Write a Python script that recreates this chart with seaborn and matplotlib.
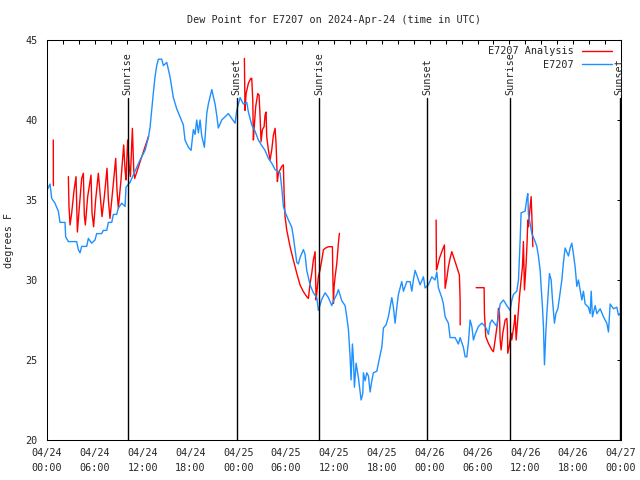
import matplotlib
matplotlib.use("Agg")
import matplotlib.pyplot as plt
import matplotlib.dates as mdates
from matplotlib.lines import Line2D
import seaborn as sns
import numpy as np
import pandas as pd

# hours after 2024-04-24 00:00 UTC
blue_hours = [0.0, 0.38, 0.59, 1.0, 1.42, 1.63, 2.26, 2.34, 2.68, 3.72, 3.93, 4.14, 4.35, 4.98,
              5.19, 5.6, 6.02, 6.23, 6.86, 7.07, 7.49, 7.7, 8.12, 8.32, 8.74, 8.95, 9.37, 9.79,
              9.91, 10.41, 11.04, 11.67, 12.3, 12.71, 12.92, 13.13, 13.34, 13.55, 13.76, 13.97,
              14.39, 14.6, 15.02, 15.43, 15.85, 16.27, 16.69, 17.1, 17.31, 17.73,
              18.07, 18.36, 18.57, 18.78, 18.99, 19.2, 19.41, 19.74, 20.04, 20.24, 20.67, 21.08,
              21.29, 21.49, 21.92, 22.75, 23.17, 23.59, 23.8, 24.22, 24.63, 25.06, 25.26, 25.68,
              26.1, 26.51, 26.94, 27.35, 27.77, 28.19, 28.61, 29.23, 29.45, 29.65, 29.86, 30.28,
              30.7, 30.9, 31.12, 31.33, 31.53, 31.74, 32.16, 32.37, 32.58, 33.0, 33.41, 33.84,
              34.04, 34.47, 34.88, 35.3,
              35.72, 35.93, 36.35, 36.55, 36.98, 37.39, 37.6, 37.81, 38.02, 38.14, 38.31, 38.43,
              38.56, 38.77, 39.06, 39.27, 39.4, 39.61, 39.69, 39.9, 40.11, 40.32, 40.53, 40.74,
              40.94, 41.37, 41.57, 41.78, 42.0, 42.2, 42.53, 42.82, 43.04, 43.25, 43.45, 43.66,
              43.88, 44.08, 44.5, 44.71, 45.13, 45.55, 45.76, 45.96, 46.17, 46.39, 46.8, 47.22,
              47.43, 47.84, 48.27, 48.68, 48.9, 49.1, 49.52, 49.72, 49.94, 50.35, 50.56, 51.19,
              51.6, 51.82, 52.23, 52.45, 52.66, 52.86, 53.07,
              53.29, 53.49, 53.7, 54.12, 54.54, 54.96, 55.17, 55.37, 55.58, 55.8, 56.42, 56.63,
              56.84, 57.25, 57.68, 58.09, 58.31, 58.51, 58.93, 59.14, 59.35, 59.47, 59.97, 60.19,
              60.31, 60.39, 60.6, 60.82, 61.23, 61.44, 61.64, 61.86, 61.98, 62.15, 62.27, 62.4,
              62.57, 62.7, 62.9, 63.03, 63.24, 63.4, 63.65, 63.83, 64.08, 64.24, 64.58, 64.78,
              64.99, 65.41, 65.62, 65.83, 66.04, 66.25, 66.46, 66.66, 67.09, 67.29, 67.5, 67.92,
              68.13, 68.26, 68.42, 68.76, 68.97, 69.39, 69.8, 70.22, 70.43, 70.64, 71.06, 71.48,
              71.68, 71.89]
blue_vals = [35.6, 36.0, 35.1, 34.8, 34.3, 33.6, 33.6, 32.7, 32.4, 32.4, 31.9, 31.7, 32.1, 32.1,
             32.6, 32.3, 32.5, 32.9, 32.9, 33.1, 33.1, 33.6, 33.6, 34.1, 34.1, 34.5, 34.8, 34.6,
             35.8, 36.1, 36.8, 37.5, 38.1, 38.9, 39.5, 40.6, 41.7, 42.7, 43.4, 43.8,
             43.8, 43.4, 43.6, 42.7, 41.4, 40.7, 40.2, 39.7, 38.75, 38.3,
             38.1, 39.4, 39.1, 40.0, 39.2, 40.0, 39.0, 38.3, 40.4, 41.0, 41.9, 41.0,
             40.3, 39.5, 40.0, 40.4, 40.1, 39.8, 40.6, 41.4, 41.0, 41.1, 40.5, 39.7,
             39.3, 38.75, 38.4, 38.1, 37.6, 37.3, 36.9, 36.7, 35.75, 34.6, 34.25, 33.75,
             33.3, 32.7, 31.9, 31.1, 31.0, 31.4, 31.9, 31.6, 30.6, 29.7, 29.2, 28.9,
             28.1, 28.8, 29.2, 28.9,
             28.4, 28.7, 29.1, 29.4, 28.7, 28.4, 27.7, 26.9, 25.2, 23.75, 26.0, 25.1,
             23.3, 24.8, 23.9, 23.0, 22.5, 22.9, 24.2, 23.7, 24.2, 24.0, 23.0, 23.7,
             24.2, 24.3, 24.8, 25.3, 25.8, 27.0, 27.2, 27.7, 28.3, 28.9, 28.3, 27.3,
             28.3, 29.1, 29.9, 29.3, 29.9, 29.9, 29.3, 30.0, 30.6, 30.3, 29.7, 30.2,
             29.5, 29.7, 30.2, 30.0, 30.5, 29.5, 28.9, 28.5, 27.7, 27.3, 26.4, 26.4,
             26.0, 26.4, 25.8, 25.2, 25.2, 26.1, 27.5,
             27.1, 26.25, 26.6, 27.1, 27.3, 27.1, 26.9, 26.6, 27.3, 27.5, 27.1, 27.8,
             28.5, 28.75, 28.4, 28.1, 28.75, 29.1, 29.3, 30.0, 32.5, 34.2, 34.3, 35.1,
             35.4, 34.1, 33.5, 32.9, 32.4, 32.1, 31.5, 30.6, 29.6, 28.3, 27.1, 24.7,
             26.7, 27.9, 29.4, 30.4, 30.0, 28.8, 27.3, 27.9, 28.2, 28.75, 30.0, 31.1,
             32.0, 31.5, 32.0, 32.3, 31.6, 30.8, 29.6, 30.0, 28.75, 29.3, 28.5, 28.3,
             27.9, 29.3, 27.7, 28.4, 27.9, 28.2, 27.7, 27.3, 26.75, 28.5, 28.2, 28.3,
             27.8, 27.9]

# analysis series, NaN marks a gap between pieces
red_hours = [0.79, 0.80, np.nan,
             2.68, 2.76, 2.89, 3.1, 3.39, 3.64, 3.81, 4.06, 4.35, 4.56, 4.68, 4.81, 5.1, 5.52,
             5.65, 5.85, 6.1, 6.44, 6.69, 6.9, 7.19, 7.53, 7.7, 7.9, 8.2, 8.62, 8.78, 8.95,
             9.28, 9.62, 9.79, 9.91, 10.12, 10.29, 10.46, 10.71, 10.88, 11.0, 11.88, 12.75, np.nan,
             24.76, 24.84, 24.97, 25.26, 25.56, 25.68, 25.81, 25.89, 25.97, 26.18, 26.44, 26.6,
             26.73, 26.85, 27.02, 27.23, 27.35, 27.48, 27.56, 27.77, 27.98, 28.19, 28.4, 28.61,
             28.73, 28.9, 29.02, 29.45, 29.65, 29.74, 29.86, 30.07, 30.49, 30.9, 31.33, 31.74,
             32.16, 32.58, 32.79, 33.0, 33.21, 33.41, 33.63, 33.75, 33.88, 34.04, 34.25, 34.47,
             34.67, 34.88, 35.3, 35.8, 35.85, 35.93, 36.01, 36.14, 36.35, 36.55, 36.68, np.nan,
             48.81, 48.85, 48.97, 49.22, 49.52, 49.85, 49.94, 50.15, 50.35, 50.56, 50.78, 51.19,
             51.73, 51.82, 51.83, np.nan,
             53.83, 54.83, 54.87, 55.04, 55.37, 55.8, 56.0, 56.21, 56.5, 56.63, 56.75, 56.84,
             56.96, 57.17, 57.47, 57.68, 57.75, 57.8, 57.97, 58.22, 58.3, 58.6, 58.72, 58.85,
             59.14, 59.26, 59.47, 59.64, 59.76, 59.89, 60.1, 60.23, 60.31, 60.39, 60.6, 60.73,
             60.82, 60.94]
red_vals = [38.75, 35.9, np.nan,
            36.46, 34.58, 33.44, 34.2, 35.6, 36.46, 33.0, 34.58, 36.35, 36.67, 34.06, 33.44, 35.2, 36.56,
            34.17, 33.33, 35.0, 36.67, 35.2, 33.96, 35.2, 36.98, 35.0, 33.85, 35.4, 37.6, 35.6, 34.48,
            36.25, 38.44, 36.88, 36.25, 38.75, 37.19, 36.46, 39.48, 36.88, 36.35, 37.7, 39.0, np.nan,
            43.85, 40.6, 41.65, 42.29, 42.6, 42.6, 41.25, 38.75, 39.4, 40.85, 41.65, 41.56,
            40.2, 38.65, 39.4, 39.58, 40.3, 40.5, 38.96, 38.13, 37.5, 38.13, 39.06, 39.48,
            38.54, 36.15, 36.67, 37.1, 37.2, 35.42, 33.96, 33.13, 32.08, 31.25, 30.42, 29.69,
            29.27, 28.96, 28.85, 29.79, 30.42, 31.25, 31.77, 28.75, 29.38, 30.21, 30.63, 31.25,
            31.88, 31.98, 32.08, 32.08, 30.42, 28.54, 29.58, 30.21, 31.04, 32.29, 32.92, np.nan,
            33.75, 30.63, 30.83, 31.35, 31.77, 32.19, 29.48, 30.1, 30.83, 31.35, 31.77, 31.15,
            30.31, 28.75, 27.19, np.nan,
            29.52, 29.52, 27.92, 26.46, 26.04, 25.63, 25.52, 26.25, 27.29, 28.23, 27.92, 26.25,
            25.63, 26.67, 27.5, 27.6, 26.98, 25.42, 25.83, 26.67, 26.25, 27.29, 27.81, 26.25,
            28.13, 28.96, 30.0, 30.83, 32.4, 29.38, 31.04, 32.5, 33.75, 33.33, 34.58, 35.21,
            33.96, 32.08]

sun_hours = [10.1, 23.78, 34.15, 47.72, 58.12, 71.82]
sun_labels = ["Sunrise", "Sunset", "Sunrise", "Sunset", "Sunrise", "Sunset"]

start = pd.Timestamp("2024-04-24 00:00")
blue = pd.DataFrame({"time": start + pd.to_timedelta(blue_hours, unit="h"), "dewpt": blue_vals})
red = pd.DataFrame({"hours": red_hours, "dewpt": red_vals})
red["seg"] = red["dewpt"].isna().cumsum()
red = red.dropna()
red["time"] = start + pd.to_timedelta(red["hours"], unit="h")

sns.set_style("white")
plt.rcParams["font.family"] = ["DejaVu Sans Mono"]
plt.rcParams["font.size"] = 7.3

fig = plt.figure(figsize=(6.4, 4.8), dpi=100)
ax = fig.add_axes([47 / 640, 1 - 440 / 480, 574 / 640, 400 / 480])

blue_c = "#1e90ff"
red_c = "#ff0000"

sns.lineplot(data=red, x="time", y="dewpt", units="seg", estimator=None, sort=False,
             color=red_c, lw=1.0, ax=ax, legend=False)
sns.lineplot(data=blue, x="time", y="dewpt", estimator=None, sort=False,
             color=blue_c, lw=1.0, ax=ax, legend=False)

# sunrise / sunset markers
for h, lab in zip(sun_hours, sun_labels):
    t = start + pd.Timedelta(hours=h)
    ax.plot([t, t], [20, 41.35], color="black", lw=1.0, clip_on=False)
    ax.text(t, 41.55, lab, rotation=90, ha="center", va="bottom", fontsize=7.3, clip_on=False)

ax.set_xlim(start, start + pd.Timedelta(hours=72))
ax.set_ylim(20, 45)
ax.set_yticks([20, 25, 30, 35, 40, 45])
ax.xaxis.set_major_locator(mdates.HourLocator(byhour=[0, 6, 12, 18]))
ax.xaxis.set_minor_locator(mdates.HourLocator(interval=2))
ax.xaxis.set_major_formatter(mdates.DateFormatter("%m/%d\n%H:%M"))
ax.tick_params(which="both", direction="in", top=True, right=True, width=0.75,
               length=3, color="black")
ax.tick_params(axis="x", which="major", pad=6)
ax.tick_params(axis="y", which="major", pad=7)
for lbl in ax.get_xticklabels():
    lbl.set_linespacing(1.55)
for s in ax.spines.values():
    s.set_color("black")
    s.set_linewidth(0.75)

ax.set_xlabel("")
ax.set_ylabel("degrees F", labelpad=8)
ax.set_title("Dew Point for E7207 on 2024-Apr-24 (time in UTC)", fontsize=7.3, pad=12)

handles = [Line2D([], [], color=red_c, lw=1.0), Line2D([], [], color=blue_c, lw=1.0)]
ax.legend(handles, ["E7207 Analysis", "E7207"], loc="upper right", frameon=False,
          markerfirst=False, handlelength=3.0, handletextpad=0.8, labelspacing=0.35,
          borderaxespad=0.2, bbox_to_anchor=(0.995, 1.0), fontsize=7.3)

fig.savefig("out.png", dpi=100)
